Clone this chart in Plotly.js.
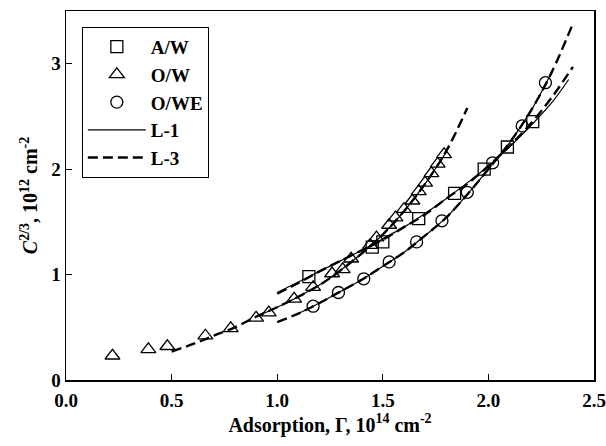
<!DOCTYPE html>
<html>
<head>
<meta charset="utf-8">
<script src="https://cdn.plot.ly/plotly-3.0.1.min.js"></script>
<style>html,body{margin:0;padding:0;background:#fff;}#chart{width:606px;height:446px;}</style>
</head>
<body>
<div id="chart"></div>
<script>
// Data points
const awX = [1.15, 1.45, 1.50, 1.67, 1.84, 1.98, 2.09, 2.21];
const awY = [0.98, 1.26, 1.31, 1.53, 1.77, 2.00, 2.21, 2.45];

const owX = [0.22, 0.39, 0.48, 0.66, 0.78, 0.90, 0.96, 1.08, 1.17, 1.26, 1.31, 1.35, 1.44, 1.47, 1.53, 1.56, 1.60, 1.64, 1.67, 1.70, 1.73, 1.76, 1.79];
const owY = [0.23, 0.29, 0.32, 0.42, 0.49, 0.59, 0.64, 0.77, 0.88, 1.01, 1.05, 1.15, 1.28, 1.35, 1.47, 1.54, 1.62, 1.70, 1.79, 1.87, 1.96, 2.05, 2.14];

const oweX = [1.17, 1.29, 1.41, 1.53, 1.66, 1.78, 1.90, 2.02, 2.16, 2.27];
const oweY = [0.70, 0.83, 0.96, 1.12, 1.31, 1.51, 1.78, 2.06, 2.41, 2.82];

// Fitted curves
const owL3X = [0.50, 0.60, 0.70, 0.80, 0.90, 1.00, 1.10, 1.20, 1.30, 1.40, 1.50, 1.60, 1.70, 1.80, 1.90];
const owL3Y = [0.27, 0.34, 0.42, 0.50, 0.60, 0.69, 0.79, 0.90, 1.04, 1.20, 1.38, 1.60, 1.86, 2.17, 2.58];
const owL1X = [0.90, 1.00, 1.10, 1.20, 1.30, 1.40, 1.50, 1.60, 1.70, 1.80];
const owL1Y = [0.60, 0.69, 0.79, 0.90, 1.04, 1.20, 1.38, 1.60, 1.86, 2.16];

const awL3X = [1.00, 1.10, 1.20, 1.30, 1.40, 1.50, 1.60, 1.70, 1.80, 1.90, 2.00, 2.10, 2.20, 2.30, 2.40];
const awL3Y = [0.82, 0.92, 1.03, 1.13, 1.23, 1.33, 1.45, 1.57, 1.72, 1.86, 2.03, 2.22, 2.43, 2.68, 2.97];
const awL1X = [1.00, 1.10, 1.20, 1.30, 1.40, 1.50, 1.60, 1.70, 1.80, 1.90, 2.00, 2.10, 2.20, 2.30, 2.38];
const awL1Y = [0.83, 0.93, 1.03, 1.13, 1.23, 1.34, 1.45, 1.58, 1.72, 1.87, 2.03, 2.21, 2.41, 2.63, 2.85];

const oweL3X = [1.00, 1.10, 1.20, 1.30, 1.40, 1.50, 1.60, 1.70, 1.80, 1.90, 2.00, 2.10, 2.20, 2.30, 2.40];
const oweL3Y = [0.55, 0.63, 0.73, 0.84, 0.95, 1.08, 1.21, 1.37, 1.54, 1.76, 2.00, 2.25, 2.55, 2.92, 3.38];
const oweL1X = [1.10, 1.20, 1.30, 1.40, 1.50, 1.60, 1.70, 1.80, 1.90, 2.00, 2.10, 2.20, 2.30];
const oweL1Y = [0.63, 0.73, 0.84, 0.95, 1.08, 1.21, 1.37, 1.54, 1.76, 2.00, 2.25, 2.55, 2.92];

const xTicks = [0, 0.5, 1.0, 1.5, 2.0, 2.5];
const xTickText = ['0.0', '0.5', '1.0', '1.5', '2.0', '2.5'];
const yTicks = [0, 1, 2, 3];
const yTickText = ['0', '1', '2', '3'];

const mk = (sym, s) => ({symbol: sym, size: s, color: '#000', line: {color: '#000', width: 1.3}});
const l1 = {color: '#000', width: 1.2, dash: 'solid', shape: 'spline'};
const l3 = {color: '#000', width: 2.4, dash: '10px,5px', shape: 'spline'};

const traces = [
  {x: awL1X, y: awL1Y, mode: 'lines', line: l1, name: 'L-1', showlegend: true, legendrank: 4},
  {x: owL1X, y: owL1Y, mode: 'lines', line: l1, name: 'L-1', showlegend: false},
  {x: oweL1X, y: oweL1Y, mode: 'lines', line: l1, name: 'L-1', showlegend: false},
  {x: awL3X, y: awL3Y, mode: 'lines', line: l3, name: 'L-3', showlegend: true, legendrank: 5},
  {x: owL3X, y: owL3Y, mode: 'lines', line: l3, name: 'L-3', showlegend: false},
  {x: oweL3X, y: oweL3Y, mode: 'lines', line: l3, name: 'L-3', showlegend: false},
  {x: awX, y: awY, mode: 'markers', marker: mk('square-open', 12), name: 'A/W', legendrank: 1},
  {x: owX, y: owY, mode: 'markers', marker: mk('triangle-up-open', 13), name: 'O/W', legendrank: 2},
  {x: oweX, y: oweY, mode: 'markers', marker: mk('circle-open', 12), name: 'O/WE', legendrank: 3}
];

const fam = '"Liberation Serif", "Times New Roman", serif';
const tickFont = {family: fam, size: 19, color: '#000', weight: 'bold'};
const titleFont = {family: fam, size: 20, color: '#000', weight: 'bold'};

const layout = {
  width: 606, height: 446,
  margin: {l: 66, r: 12, t: 11, b: 66},
  paper_bgcolor: '#fff', plot_bgcolor: '#fff',
  font: tickFont,
  showlegend: true,
  legend: {
    x: 0.03, y: 0.957, xanchor: 'left', yanchor: 'top',
    bordercolor: '#000', borderwidth: 1, bgcolor: '#fff',
    font: {family: fam, size: 19, color: '#000', weight: 'bold'},
    traceorder: 'normal', itemwidth: 58
  },
  xaxis: {
    range: [0, 2.5], tickvals: xTicks, ticktext: xTickText,
    ticks: 'inside', ticklen: 6, tickwidth: 1, tickcolor: '#000',
    showline: true, linecolor: '#000', linewidth: 1.5, mirror: true,
    showgrid: false, zeroline: false,
    tickfont: tickFont, ticklabelstandoff: 3,
    title: {text: 'Adsorption, Γ, 10<sup>14</sup> cm<sup>-2</sup>', font: titleFont, standoff: 3}
  },
  yaxis: {
    range: [0, 3.5], tickvals: yTicks, ticktext: yTickText,
    ticks: 'inside', ticklen: 6, tickwidth: 1, tickcolor: '#000',
    showline: true, linecolor: '#000', linewidth: 1.5, mirror: true,
    showgrid: false, zeroline: false,
    tickfont: tickFont,
    title: {text: '<i>C</i><sup>2/3</sup>, 10<sup>12</sup> cm<sup>-2</sup>', font: titleFont, standoff: 8}
  }
};

Plotly.newPlot('chart', traces, layout, {displayModeBar: false, staticPlot: true});
</script>
</body>
</html>
